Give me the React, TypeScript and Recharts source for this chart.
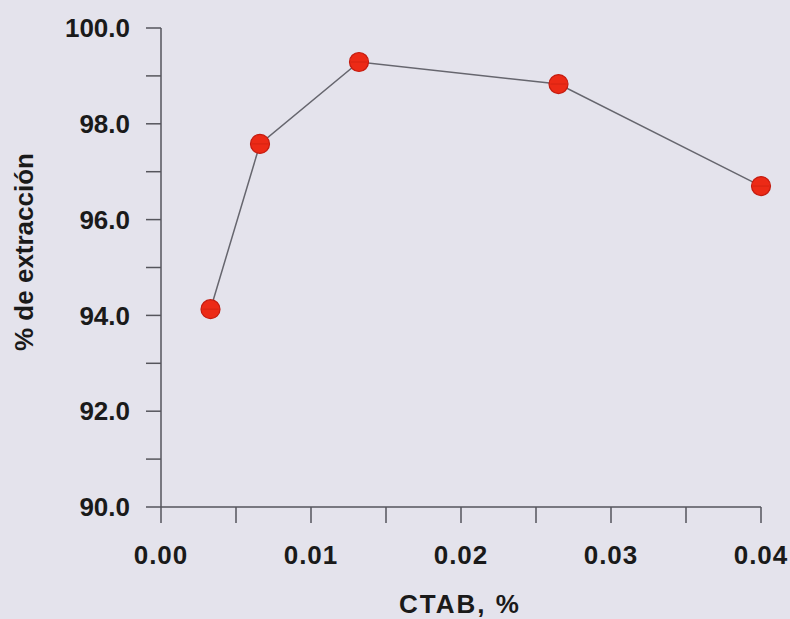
import React from 'react';
import { LineChart, Line, XAxis, YAxis } from 'recharts';

// CTAB concentration (%) vs extraction (%)
const ctab = [0.0033, 0.0066, 0.0132, 0.0265, 0.04];
const extraccion = [94.13, 97.58, 99.29, 98.83, 96.7];

const xTicks = [0, 0.005, 0.01, 0.015, 0.02, 0.025, 0.03, 0.035, 0.04];
const xLabeled = [0, 0.01, 0.02, 0.03, 0.04];
const yTicks = [90, 91, 92, 93, 94, 95, 96, 97, 98, 99, 100];
const yLabeled = [90, 92, 94, 96, 98, 100];

const data = ctab.map((x, i) => ({ x, y: extraccion[i] }));

const FONT = '"Liberation Sans", Arial, sans-serif';
const AXIS = '#55555c';

const RedDot = (props: any) => {
  const { cx, cy, index } = props;
  if (cx == null || cy == null) return null;
  return (
    <g key={`d-${index}`}>
      <circle cx={cx} cy={cy} r={9.5} fill="#ec2a16" stroke="#c41c10" strokeWidth={1.2} />
      <line x1={cx - 8} x2={cx + 8} y1={cy} y2={cy} stroke="#c8200f" strokeWidth={1} opacity={0.6} />
    </g>
  );
};

const isLabeled = (v: number, list: number[]) => list.some((t) => Math.abs(t - v) < 1e-9);

export default function App() {
  return (
    <div
      style={{
        position: 'absolute',
        left: 0,
        top: 0,
        width: 790,
        height: 619,
        background: '#e4e3ec',
        overflow: 'hidden',
      }}
    >
      <LineChart
        width={790}
        height={619}
        data={data}
        margin={{ top: 28, right: 29, bottom: 32, left: 0 }}
      >
        <XAxis
          type="number"
          dataKey="x"
          domain={[0, 0.04]}
          ticks={xTicks}
          interval={0}
          height={80}
          tickSize={16}
          tickMargin={23}
          stroke={AXIS}
          strokeWidth={1.5}
          tickFormatter={(v: number) => (isLabeled(v, xLabeled) ? v.toFixed(2) : '')}
          tick={{ fill: '#1a1a1a', fontSize: 26, fontWeight: 700, fontFamily: FONT, letterSpacing: 1 }}
          label={{
            content: () => (
              <text
                x={460}
                y={604}
                textAnchor="middle"
                dominantBaseline="central"
                fill="#1a1a1a"
                fontSize={26}
                fontWeight={700}
                fontFamily={FONT}
                letterSpacing={2}
              >
                CTAB, %
              </text>
            ),
          }}
        />
        <YAxis
          type="number"
          domain={[90, 100]}
          ticks={yTicks}
          interval={0}
          width={161}
          tickSize={15}
          tickMargin={16}
          stroke={AXIS}
          strokeWidth={1.5}
          tickFormatter={(v: number) => (isLabeled(v, yLabeled) ? v.toFixed(1) : '')}
          tick={{ fill: '#1a1a1a', fontSize: 26, fontWeight: 700, fontFamily: FONT }}
          label={{
            content: () => (
              <text
                x={24}
                y={252}
                transform="rotate(-90 24 252)"
                textAnchor="middle"
                dominantBaseline="central"
                fill="#1a1a1a"
                fontSize={26}
                fontWeight={700}
                fontFamily={FONT}
              >
                % de extracción
              </text>
            ),
          }}
        />
        <Line
          type="linear"
          dataKey="y"
          stroke="#66666e"
          strokeWidth={1.5}
          dot={<RedDot />}
          activeDot={false}
          isAnimationActive={false}
        />
      </LineChart>
    </div>
  );
}
